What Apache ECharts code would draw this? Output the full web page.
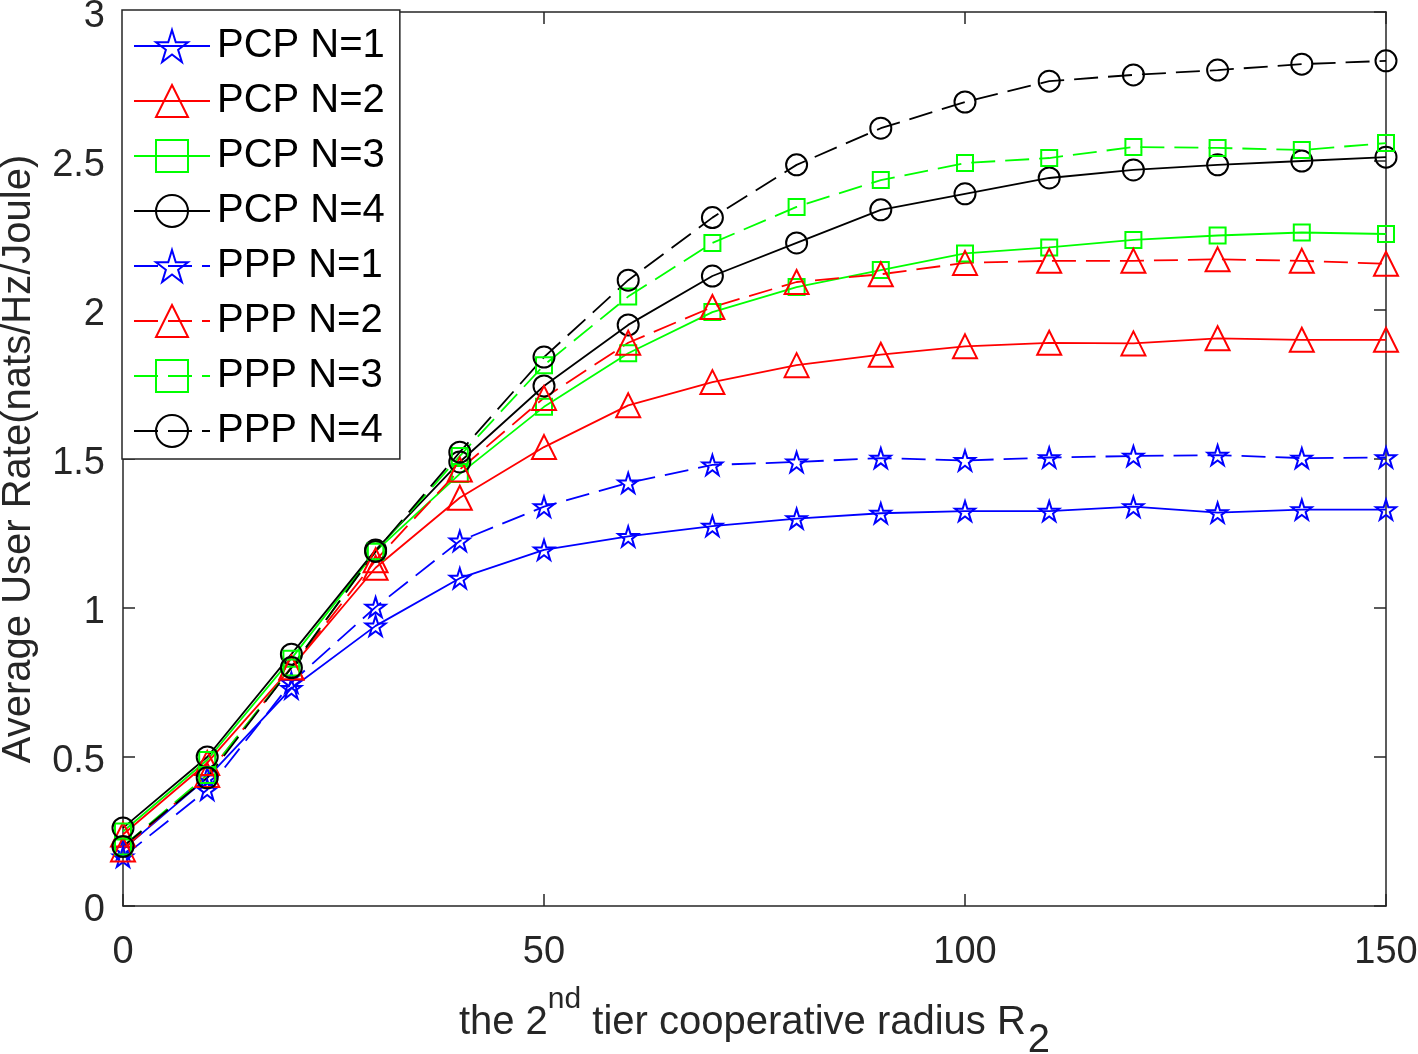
<!DOCTYPE html>
<html><head><meta charset="utf-8">
<script src="https://cdn.jsdelivr.net/npm/echarts@6/dist/echarts.min.js"></script>
<style>html,body{margin:0;padding:0;background:#fff}#c{width:1418px;height:1054px}</style>
</head><body><div id="c"></div>
<script>
const xValues = [0,10,20,30,40,50,60,70,80,90,100,110,120,130,140,150];
const pcpN1 = [0.19,0.43,0.73,0.94,1.10,1.195,1.24,1.275,1.30,1.318,1.325,1.325,1.34,1.32,1.33,1.33];
const pcpN2 = [0.24,0.48,0.80,1.135,1.37,1.54,1.68,1.758,1.815,1.85,1.878,1.89,1.888,1.905,1.90,1.90];
const pcpN3 = [0.25,0.49,0.83,1.19,1.45,1.675,1.855,1.993,2.077,2.134,2.19,2.21,2.235,2.25,2.26,2.255];
const pcpN4 = [0.262,0.50,0.845,1.195,1.49,1.745,1.95,2.114,2.225,2.336,2.39,2.443,2.47,2.487,2.50,2.513];
const pppN1 = [0.165,0.39,0.75,1.003,1.225,1.34,1.42,1.48,1.49,1.503,1.495,1.505,1.51,1.513,1.503,1.505];
const pppN2 = [0.19,0.44,0.80,1.16,1.465,1.705,1.89,2.01,2.094,2.12,2.158,2.165,2.165,2.17,2.165,2.155];
const pppN3 = [0.20,0.44,0.80,1.19,1.51,1.815,2.045,2.225,2.346,2.436,2.493,2.51,2.547,2.544,2.537,2.56];
const pppN4 = [0.20,0.43,0.80,1.19,1.523,1.842,2.10,2.31,2.487,2.61,2.698,2.768,2.789,2.805,2.825,2.836];
const seriesNames = ['PCP N=1','PCP N=2','PCP N=3','PCP N=4','PPP N=1','PPP N=2','PPP N=3','PPP N=4'];
const yTicks = [0,0.5,1,1.5,2,2.5,3];

const STAR = 'path://M50,0L61.2,34.5L97.6,34.5L68.2,55.9L79.4,90.5L50,69.1L20.6,90.5L31.8,55.9L2.4,34.5L38.8,34.5Z';
const FONT = 'Liberation Sans';
const TXT = '#262626';
const styles = [
  {color:'#0000ff', symbol:STAR, size:20},
  {color:'#ff0000', symbol:'triangle', size:24},
  {color:'#00ff00', symbol:'rect', size:16},
  {color:'#000000', symbol:'circle', size:21}
];
const data = [pcpN1,pcpN2,pcpN3,pcpN4,pppN1,pppN2,pppN3,pppN4];
const series = data.map((vals,i)=>{
  const s = styles[i%4];
  const dashed = i>=4;
  return {
    name: seriesNames[i], type:'line',
    data: xValues.map((x,k)=>[x, vals[k]]),
    symbol: s.symbol, symbolSize: s.size, showSymbol:true,
    lineStyle:{color:s.color, width:1.8, type: dashed ? [24,10] : 'solid'},
    itemStyle:{color:'rgba(0,0,0,0)', borderColor:s.color, borderWidth:2},
    emphasis:{disabled:true}, animation:false, z: 2
  };
});
const chart = echarts.init(document.getElementById('c'), null, {renderer:'canvas'});
const axisCommon = {
  axisLine:{show:true, onZero:false, lineStyle:{color:TXT, width:1.5}},
  axisTick:{show:true, inside:true, length:12, lineStyle:{color:TXT, width:1.5}},
  splitLine:{show:false}
};
chart.setOption({
  backgroundColor:'#fff',
  animation:false,
  grid:{left:123, right:32, top:12, bottom:148, show:false, containLabel:false, outerBoundsMode:'none'},
  legend:{
    show:true, left:122, top:10, orient:'vertical',
    backgroundColor:'#fff', borderColor:TXT, borderWidth:1.5,
    padding:[16,15,8,11], itemGap:15, itemWidth:76, itemHeight:40,
    textStyle:{fontFamily:FONT, fontSize:40, color:'#000', padding:[0,0,0,2]},
    data: seriesNames
  },
  xAxis:[
    Object.assign({type:'value', min:0, max:150, interval:50, position:'bottom',
      axisLabel:{fontFamily:FONT, fontSize:38, color:TXT, margin:28},
      name:'{a|the 2}{sup|nd}{a| tier cooperative radius R}{sub|2}',
      nameLocation:'middle', nameGap:97,
      nameTextStyle:{rich:{
        a:{fontFamily:FONT, fontSize:40, color:TXT, lineHeight:40, verticalAlign:'middle'},
        sup:{fontFamily:FONT, fontSize:30, color:TXT, lineHeight:30, verticalAlign:'middle', padding:[0,0,46,0]},
        sub:{fontFamily:FONT, fontSize:40, color:TXT, lineHeight:40, verticalAlign:'middle', padding:[36,0,0,2]}
      }}
    }, axisCommon),
    Object.assign({type:'value', min:0, max:150, interval:50, position:'top', axisLabel:{show:false}}, axisCommon)
  ],
  yAxis:[
    Object.assign({type:'value', min:0, max:3, interval:0.5, position:'left',
      axisLabel:{color:TXT, margin:18,
        formatter:(v)=>'{v|' + String(yTicks.find(t=>Math.abs(t-v)<1e-9) ?? v) + '}',
        rich:{v:{fontFamily:FONT, fontSize:38, color:TXT, padding:[10,0,0,0]}}},
      name:'Average User Rate(nats/Hz/Joule)', nameLocation:'middle', nameGap:84, nameRotate:90,
      nameTextStyle:{fontFamily:FONT, fontSize:40, color:TXT}
    }, axisCommon),
    Object.assign({type:'value', min:0, max:3, interval:0.5, position:'right', axisLabel:{show:false}}, axisCommon)
  ],
  series: series
});
</script></body></html>
